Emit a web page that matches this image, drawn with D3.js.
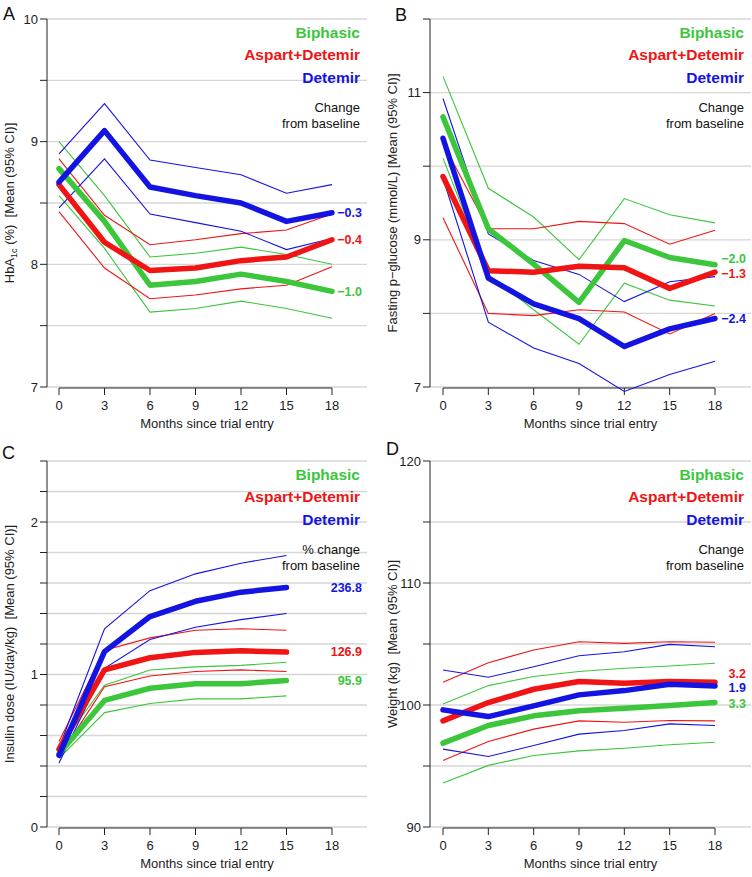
<!DOCTYPE html>
<html>
<head>
<meta charset="utf-8">
<script src="https://cdn.jsdelivr.net/npm/d3@7"></script>
<style>
  html, body { margin: 0; padding: 0; background: #fff; }
  svg { display: block; font-family: "Liberation Sans", Arial, Helvetica, sans-serif; }
  text { white-space: pre; }
</style>
</head>
<body>
<svg id="chart" width="752" height="877"></svg>
<script>
// ── Data ─────────────────────────────────
const months = [0, 3, 6, 9, 12, 15, 18];
const monthsDose = [0, 3, 6, 9, 12, 15];
const groups = ['Biphasic', 'Aspart+Detemir', 'Detemir'];

// A: HbA1c (%)
const hbaBiphasic = [8.78, 8.35, 7.83, 7.86, 7.92, 7.86, 7.78];
const hbaBiphasicLo = [8.56, 8.13, 7.61, 7.64, 7.70, 7.64, 7.56];
const hbaBiphasicHi = [9.00, 8.56, 8.06, 8.09, 8.14, 8.08, 8.00];
const hbaAspart = [8.65, 8.18, 7.95, 7.97, 8.03, 8.06, 8.20];
const hbaAspartLo = [8.43, 7.97, 7.72, 7.75, 7.80, 7.83, 7.98];
const hbaAspartHi = [8.86, 8.40, 8.16, 8.20, 8.25, 8.28, 8.41];
const hbaDetemir = [8.67, 9.09, 8.63, 8.56, 8.50, 8.35, 8.42];
const hbaDetemirLo = [8.46, 8.86, 8.41, 8.34, 8.27, 8.12, 8.21];
const hbaDetemirHi = [8.90, 9.31, 8.85, 8.79, 8.73, 8.58, 8.65];
const hbaChange = ['\u22121.0', '\u22120.4', '\u22120.3'];

// B: Fasting p-glucose (mmol/L)
const fpgBiphasic = [10.67, 9.15, 8.67, 8.15, 8.99, 8.76, 8.66];
const fpgBiphasicLo = [10.11, 8.53, 8.05, 7.58, 8.41, 8.18, 8.10];
const fpgBiphasicHi = [11.22, 9.70, 9.31, 8.73, 9.56, 9.34, 9.23];
const fpgAspart = [9.86, 8.58, 8.56, 8.64, 8.62, 8.34, 8.56];
const fpgAspartLo = [9.30, 8.00, 7.97, 8.05, 8.02, 7.72, 8.00];
const fpgAspartHi = [10.31, 9.15, 9.15, 9.25, 9.22, 8.94, 9.13];
const fpgDetemir = [10.38, 8.48, 8.13, 7.93, 7.55, 7.79, 7.93];
const fpgDetemirLo = [9.84, 7.88, 7.53, 7.32, 6.94, 7.17, 7.35];
const fpgDetemirHi = [10.92, 9.08, 8.72, 8.53, 8.16, 8.43, 8.50];
const fpgChange = ['\u22122.0', '\u22121.3', '\u22122.4'];

// C: Insulin dose (IU/day/kg)
const doseBiphasic = [0.48, 0.83, 0.91, 0.94, 0.94, 0.96];
const doseBiphasicLo = [0.45, 0.75, 0.81, 0.84, 0.84, 0.86];
const doseBiphasicHi = [0.52, 0.93, 1.03, 1.05, 1.06, 1.08];
const doseAspart = [0.51, 1.03, 1.11, 1.145, 1.155, 1.147];
const doseAspartLo = [0.46, 0.92, 0.99, 1.02, 1.03, 1.02];
const doseAspartHi = [0.56, 1.16, 1.24, 1.29, 1.30, 1.29];
const doseDetemir = [0.47, 1.15, 1.38, 1.48, 1.54, 1.57];
const doseDetemirLo = [0.42, 1.04, 1.23, 1.31, 1.36, 1.40];
const doseDetemirHi = [0.52, 1.30, 1.55, 1.66, 1.73, 1.78];
const doseChange = ['95.9', '126.9', '236.8'];

// D: Weight (kg)
const wtBiphasic = [96.87, 98.32, 99.11, 99.52, 99.74, 99.95, 100.20];
const wtBiphasicLo = [93.60, 95.05, 95.86, 96.24, 96.46, 96.74, 96.95];
const wtBiphasicHi = [100.09, 101.59, 102.33, 102.74, 103.01, 103.20, 103.42];
const wtAspart = [98.70, 100.20, 101.29, 101.92, 101.78, 101.92, 101.86];
const wtAspartLo = [95.45, 97.01, 98.02, 98.70, 98.59, 98.73, 98.70];
const wtAspartHi = [101.86, 103.47, 104.51, 105.19, 105.05, 105.19, 105.14];
const wtDetemir = [99.60, 99.05, 99.93, 100.83, 101.18, 101.70, 101.56];
const wtDetemirLo = [96.38, 95.78, 96.68, 97.61, 97.91, 98.45, 98.32];
const wtDetemirHi = [102.87, 102.27, 103.14, 104.04, 104.37, 104.97, 104.78];
const wtChange = ['3.3', '3.2', '1.9'];

const xTicks = [0, 3, 6, 9, 12, 15, 18];

// ── Styling ──────────────────────────────
const colors = ['#3cc63c', '#f01414', '#1414e2'];
const gridColor = '#d6d6d6';
const svg = d3.select('#chart');

function panel(o) {
  const g = svg.append('g');
  const x = d3.scaleLinear().domain([0, 18]).range([o.x0, o.x1]);
  const y = d3.scaleLinear().domain(o.yDomain).range([o.bottom, o.top]);

  // grid
  g.selectAll('line.grid').data(o.grid).enter().append('line')
    .attr('x1', o.axisX).attr('x2', o.gridRight)
    .attr('y1', d => y(d)).attr('y2', d => y(d))
    .attr('stroke', gridColor).attr('stroke-width', 1.3);

  // y axis
  g.append('line').attr('x1', o.axisX).attr('x2', o.axisX)
    .attr('y1', y(o.yDomain[0])).attr('y2', y(o.yDomain[1]))
    .attr('stroke', '#222').attr('stroke-width', 1);
  g.selectAll('line.ytick').data(o.grid).enter().append('line')
    .attr('x1', o.axisX - 7).attr('x2', o.axisX)
    .attr('y1', d => y(d)).attr('y2', d => y(d))
    .attr('stroke', '#222').attr('stroke-width', 1);
  g.selectAll('text.ylab').data(o.yLabels).enter().append('text')
    .attr('x', o.axisX - 9).attr('y', d => y(d) + 4.6)
    .attr('text-anchor', 'end').attr('font-size', 13).attr('fill', '#222')
    .text(d => d);

  // x axis
  const xa = o.bottom + 1;
  g.append('line').attr('x1', x(0)).attr('x2', x(18))
    .attr('y1', xa).attr('y2', xa).attr('stroke', '#222').attr('stroke-width', 1);
  g.selectAll('line.xtick').data(xTicks).enter().append('line')
    .attr('x1', d => x(d)).attr('x2', d => x(d))
    .attr('y1', xa).attr('y2', xa + 7).attr('stroke', '#222');
  g.selectAll('text.xlab').data(xTicks).enter().append('text')
    .attr('x', d => x(d)).attr('y', o.bottom + 23)
    .attr('text-anchor', 'middle').attr('font-size', 13).attr('fill', '#222')
    .text(d => d);
  g.append('text').attr('x', (o.axisX + o.gridRight) / 2).attr('y', o.bottom + 41)
    .attr('text-anchor', 'middle').attr('font-size', 13).attr('fill', '#222')
    .text('Months since trial entry');

  // y title
  const yt = g.append('text')
    .attr('transform', `translate(${o.axisX - 33},${(o.top + o.bottom) / 2}) rotate(-90)`)
    .attr('text-anchor', 'middle').attr('font-size', 13).attr('fill', '#222');
  o.yTitle(yt);

  // panel letter
  g.append('text').attr('x', o.letterX).attr('y', o.letterY)
    .attr('font-size', 18).attr('fill', '#111').text(o.letter);

  // lines
  const line = d3.line().x((d, i) => x(o.xs[i])).y(d => y(d));
  o.series.forEach((s, k) => {
    [s.lo, s.hi].forEach(arr => {
      g.append('path').attr('d', line(arr)).attr('fill', 'none')
        .attr('stroke', colors[k]).attr('stroke-width', 1.1);
    });
  });
  o.series.forEach((s, k) => {
    g.append('path').attr('d', line(s.mean)).attr('fill', 'none')
      .attr('stroke', colors[k]).attr('stroke-width', 5.5)
      .attr('stroke-linejoin', 'round').attr('stroke-linecap', 'round');
  });

  // legend
  const lx = o.gridRight - 7;
  groups.forEach((name, k) => {
    g.append('text').attr('x', lx).attr('y', o.top + 18.5 + k * 22.5)
      .attr('text-anchor', 'end').attr('font-size', 15.5).attr('font-weight', 'bold')
      .attr('fill', colors[k]).text(name);
  });
  o.note.forEach((t, i) => {
    g.append('text').attr('x', lx).attr('y', o.top + 92.6 + i * 16)
      .attr('text-anchor', 'end').attr('font-size', 13).attr('fill', '#111').text(t);
  });

  // change labels at last mean value
  o.series.forEach((s, k) => {
    g.append('text').attr('x', lx + 2)
      .attr('y', y(s.mean[s.mean.length - 1]) + 4.4 + (o.nudge ? o.nudge[k] : 0))
      .attr('text-anchor', 'end').attr('font-size', 12.5).attr('font-weight', 'bold')
      .attr('fill', colors[k]).text(o.change[k]);
  });
}

const left = { axisX: 47, x0: 59, x1: 332, gridRight: 367 };
const right = { axisX: 430, x0: 443, x1: 715, gridRight: 751 };

panel(Object.assign({}, left, {
  top: 19, bottom: 387, yDomain: [7, 10],
  grid: [7, 7.5, 8, 8.5, 9, 9.5, 10], yLabels: [7, 8, 9, 10],
  letter: 'A', letterX: 3, letterY: 20, xs: months,
  series: [
    { mean: hbaBiphasic, lo: hbaBiphasicLo, hi: hbaBiphasicHi },
    { mean: hbaAspart, lo: hbaAspartLo, hi: hbaAspartHi },
    { mean: hbaDetemir, lo: hbaDetemirLo, hi: hbaDetemirHi }
  ],
  change: hbaChange, note: ['Change', 'from baseline'],
  yTitle: t => {
    t.append('tspan').text('HbA');
    t.append('tspan').attr('font-size', 9).attr('dy', 3).text('1c');
    t.append('tspan').attr('dy', -3).text(' (%)  [Mean (95% CI)]');
  }
}));

panel(Object.assign({}, right, {
  top: 19, bottom: 387, yDomain: [7, 12],
  grid: [7, 8, 9, 10, 11, 12], yLabels: [7, 9, 11],
  letter: 'B', letterX: 395, letterY: 21, xs: months,
  series: [
    { mean: fpgBiphasic, lo: fpgBiphasicLo, hi: fpgBiphasicHi },
    { mean: fpgAspart, lo: fpgAspartLo, hi: fpgAspartHi },
    { mean: fpgDetemir, lo: fpgDetemirLo, hi: fpgDetemirHi }
  ],
  change: fpgChange, note: ['Change', 'from baseline'], nudge: [-6, 1, 0],
  yTitle: t => t.text('Fasting p\u2212glucose (mmol/L) [Mean (95% CI)]')
}));

panel(Object.assign({}, left, {
  top: 461, bottom: 827, yDomain: [0, 2.4],
  grid: d3.range(0, 2.41, 0.2), yLabels: [0, 1, 2],
  letter: 'C', letterX: 2, letterY: 459, xs: monthsDose,
  series: [
    { mean: doseBiphasic, lo: doseBiphasicLo, hi: doseBiphasicHi },
    { mean: doseAspart, lo: doseAspartLo, hi: doseAspartHi },
    { mean: doseDetemir, lo: doseDetemirLo, hi: doseDetemirHi }
  ],
  change: doseChange, note: ['% change', 'from baseline'],
  yTitle: t => t.text('Insulin dose (IU/day/kg)  [Mean (95% CI)]')
}));

panel(Object.assign({}, right, {
  top: 461, bottom: 827, yDomain: [90, 120],
  grid: [90, 95, 100, 105, 110, 115, 120], yLabels: [90, 100, 110, 120],
  letter: 'D', letterX: 386, letterY: 455, xs: months,
  series: [
    { mean: wtBiphasic, lo: wtBiphasicLo, hi: wtBiphasicHi },
    { mean: wtAspart, lo: wtAspartLo, hi: wtAspartHi },
    { mean: wtDetemir, lo: wtDetemirLo, hi: wtDetemirHi }
  ],
  change: wtChange, note: ['Change', 'from baseline'], nudge: [1, -9, 2],
  yTitle: t => t.text('Weight (kg)  [Mean (95% CI)]')
}));
</script>
</body>
</html>
